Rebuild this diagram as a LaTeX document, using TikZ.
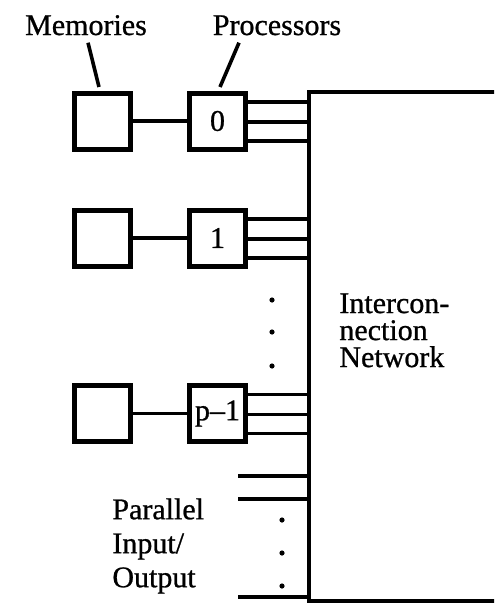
\documentclass[tikz,border=0pt]{standalone}
\usepackage{fontspec}
\setmainfont{Liberation Serif}[FakeBold=0.8]
\usetikzlibrary{positioning}

\begin{document}
\begin{tikzpicture}[
  x=0.5pt, y=-0.5pt,
  font=\fontsize{15}{13.5}\selectfont,
  node distance=29.5pt,
  unit/.style={draw, line width=2.5pt, minimum width=28pt, minimum height=28pt, inner sep=0pt, outer sep=0pt},
  network/.style={draw, line width=2.2pt, minimum width=120pt, minimum height=254.5pt, inner sep=0pt, outer sep=0pt, anchor=north west},
  tag/.style={inner sep=0pt, anchor=base},
  blocktext/.style={inner sep=0pt, anchor=north west, align=left},
  wire/.style={line width=1.8pt},
  leader/.style={line width=1.8pt},
  dotmark/.style={circle, fill, inner sep=0pt, minimum size=2.6pt}
]
\useasboundingbox (0,0) rectangle (494,605);
\clip (0,0) rectangle (494,605);

% memories and processors
\node[unit] (m0) at (102.5,121) {};
\node[unit, right=of m0] (p0) {0};
\node[unit] (m1) at (102.5,238) {};
\node[unit, right=of m1] (p1) {1};
\node[unit] (m2) at (102.5,413.5) {};
\node[unit, right=of m2] (p2) {p\textendash1};

\node[network] (net) at (309,92) {};
\node[blocktext, font=\fontsize{15}{13.5}\selectfont] (nettext) at (339,293) {Intercon-\\nection\\Network};

\node[tag] (memlabel) at (86,35) {Memories};
\node[tag] (proclabel) at (277,35) {Processors};
\node[blocktext, font=\fontsize{15}{17}\selectfont] (iotext) at (112,498) {Parallel\\Input/\\Output};

% links
\draw[wire] (m0) -- (p0);
\draw[wire] (m1) -- (p1);
\draw[wire] (m2) -- (p2);
\foreach \p in {p0,p1,p2}
  \foreach \d in {9.5,-0.5,-10}
    \draw[wire] ([yshift=\d pt]\p.east) -- ([yshift=\d pt]\p.east -| net.west);

% parallel i/o
\coordinate (io1) at (238,476);
\coordinate (io2) at (238,499);
\coordinate (io3) at (238,597);
\foreach \c in {io1,io2,io3}
  \draw[wire] (\c) -- (\c -| net.west);

% dots
\foreach \y in {300,332,366}
  \node[dotmark] at (272,\y) {};
\foreach \y in {520,553,586}
  \node[dotmark] at (282,\y) {};

% leaders
\draw[leader] ([xshift=1pt, yshift=-3.5pt]memlabel.south) -- ([xshift=-1.75pt, yshift=3pt]m0.north);
\draw[leader] ([xshift=-19pt, yshift=-3.5pt]proclabel.south) -- ([xshift=1.25pt, yshift=3pt]p0.north);
\end{tikzpicture}
\end{document}
